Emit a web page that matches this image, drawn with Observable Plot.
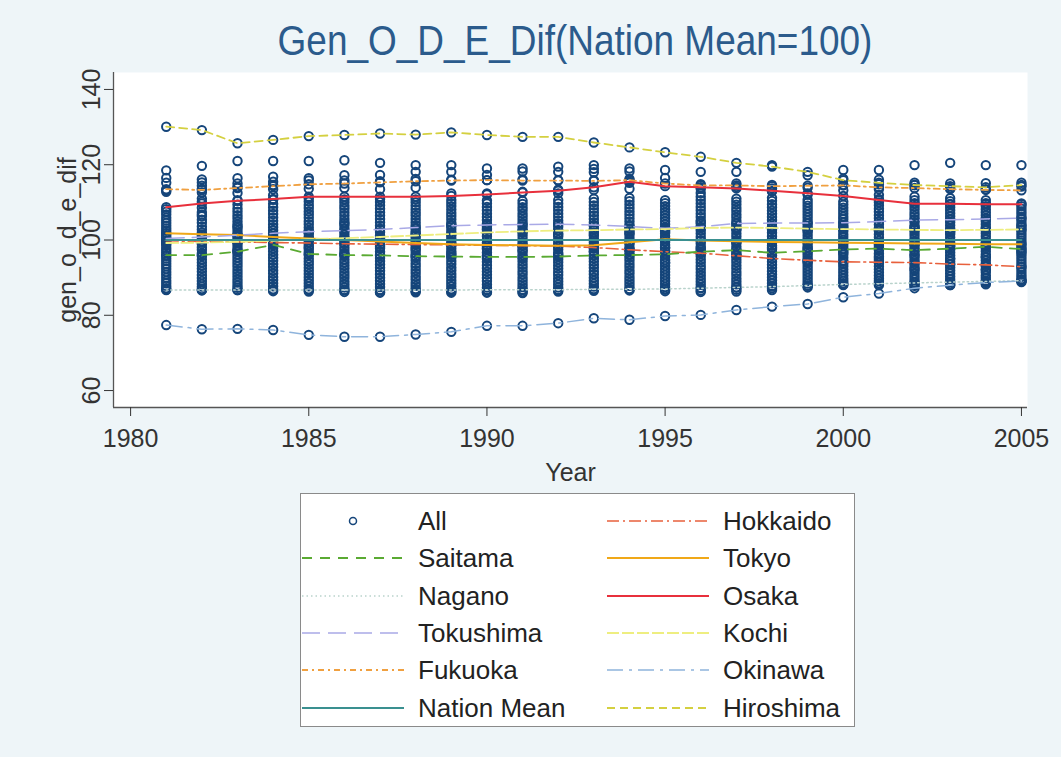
<!DOCTYPE html>
<html><head><meta charset="utf-8">
<script src="https://cdn.jsdelivr.net/npm/d3@7"></script>
<script src="https://cdn.jsdelivr.net/npm/@observablehq/plot@0.6"></script>
<style>
body{margin:0;background:#eef5f8;font-family:"Liberation Sans",Arial,sans-serif;}
#wrap{position:relative;width:1061px;height:757px;overflow:hidden;}
#chart{position:absolute;left:0;top:0;}
#title{position:absolute;left:0;width:1150px;top:20px;text-align:center;font-size:42px;line-height:1;color:#2b5b8c;transform:scaleX(0.88);transform-origin:575px 0;}
#legend{position:absolute;left:300px;top:493px;width:553px;height:232px;background:#fff;border:1.5px solid #8a8a8a;}
.item{position:absolute;height:30px;font-size:26px;color:#222;}
.item svg{position:absolute;top:0;}
.item span{position:absolute;top:0;line-height:30px;white-space:nowrap;}
</style></head>
<body><div id="wrap"><div id="chart"></div><div id="title">Gen_O_D_E_Dif(Nation Mean=100)</div><div id="legend"></div></div>
<script>
const years = [1981,1982,1983,1984,1985,1986,1987,1988,1989,1990,1991,1992,1993,1994,1995,1996,1997,1998,1999,2000,2001,2002,2003,2004,2005];
const xTicks = [1980,1985,1990,1995,2000,2005];
const yTicks = [60,80,100,120,140];
const xDomain = [1979.52, 2005.17];
const yDomain = [55.5, 144.5];

// highlighted prefectures
const hokkaido  = [99.8,99.6,99.5,99.3,99.2,99.0,98.9,98.8,98.7,98.6,98.5,98.4,98.0,97.4,96.9,96.5,95.8,95.1,94.6,94.2,94.1,94.0,93.6,93.4,92.9];
const saitama   = [96.0,96.0,96.9,98.7,96.3,96.0,95.9,95.7,95.6,95.5,95.5,95.6,95.9,96.0,96.2,96.9,97.3,96.6,97.0,97.5,97.7,97.3,97.7,98.2,97.6];
const tokyo     = [101.8,101.5,101.3,100.8,100.4,100.0,99.6,99.2,98.9,98.7,98.6,98.5,98.6,99.4,100.2,99.9,99.7,99.5,99.4,99.3,99.2,99.1,99.0,98.9,98.9];
const nagano    = [86.7,86.7,86.7,86.7,86.7,86.7,86.7,86.7,86.7,86.8,86.8,86.8,86.9,86.9,87.0,87.2,87.4,87.6,87.9,88.2,88.4,88.6,88.8,89.0,89.2];
const osaka     = [108.7,109.7,110.4,110.9,111.5,111.5,111.5,111.5,111.7,112.1,112.6,113.1,114.0,115.5,114.3,114.0,113.7,113.1,112.4,111.7,110.6,109.6,109.6,109.5,109.5];
const tokushima = [100.4,100.8,101.3,101.8,102.2,102.5,102.8,103.3,103.8,104.0,104.1,104.2,104.0,103.6,103.1,103.5,104.4,104.5,104.5,104.6,104.9,105.3,105.4,105.6,105.8];
const kochi     = [99.2,99.3,99.5,99.8,100.2,100.5,100.8,101.2,101.6,102.0,102.3,102.5,102.6,102.8,102.9,103.2,103.3,103.2,103.0,102.9,102.8,102.7,102.6,102.7,102.8];
const fukuoka   = [113.5,113.3,113.8,114.3,114.8,115.0,115.3,115.6,115.8,115.9,115.8,115.8,115.7,115.9,115.0,114.5,114.5,114.3,114.4,114.5,114.0,113.8,113.5,113.3,113.2];
const okinawa   = [77.4,76.3,76.4,76.1,74.8,74.3,74.3,74.9,75.6,77.2,77.2,77.9,79.2,78.8,79.8,80.1,81.4,82.3,83.0,84.8,85.8,87.2,88.0,88.7,89.1];
const nationMean= [100,100,100,100,100,100,100,100,100,100,100,100,100,100,100,100,100,100,100,100,100,100,100,100,100];
const hiroshima = [130.1,129.2,125.7,126.6,127.6,127.9,128.3,128.0,128.6,127.9,127.4,127.4,125.9,124.6,123.3,122.1,120.5,119.5,118.1,115.9,115.2,114.6,114.3,114.0,114.6];

// remaining prefectures, one list per year
const othersByYear = [
 /*1981*/[118.5,116.5,115.2,113.2,112.8,107.5,106.8,105.9,105.2,104.5,103.8,103.1,102.5,101.8,101.2,100.6,99.8,99.2,98.6,97.9,97.3,96.7,95.8,95.1,94.4,93.7,93.0,92.3,91.5,90.8,90.0,89.2,88.5,87.8,87.2,86.8,108.2],
 /*1982*/[119.7,116.1,115.3,114.4,113.6,112.6,111.0,110.2,108.6,107.4,106.3,105.4,104.6,103.6,102.8,102.0,101.3,100.5,99.6,98.9,98.1,97.4,96.5,95.7,94.8,94.0,93.2,92.4,91.6,90.7,89.9,89.1,88.3,87.6,87.0,86.6,106.8],
 /*1983*/[121.0,116.4,115.0,114.1,112.5,110.6,109.4,108.4,107.5,106.6,105.8,104.9,104.1,103.2,102.4,101.6,100.8,100.1,99.3,98.5,97.7,96.9,96.1,95.3,94.5,93.7,92.9,92.0,91.2,90.4,89.5,88.7,87.9,87.3,86.7,103.6,97.2],
 /*1984*/[121.0,116.8,115.5,114.6,113.5,111.9,110.7,109.6,108.7,107.8,106.9,106.0,105.1,104.2,103.4,102.6,101.8,101.0,100.2,99.4,98.6,97.8,97.0,96.1,95.3,94.5,93.6,92.8,91.9,91.1,90.2,89.4,88.5,87.7,86.9,86.4,100.6],
 /*1985*/[121.0,116.4,115.8,113.6,111.0,110.2,109.3,108.5,107.6,106.8,105.9,105.0,104.2,103.3,102.5,101.7,100.9,100.1,99.3,98.5,97.6,96.8,96.0,95.1,94.3,93.5,92.6,91.8,91.0,90.1,89.3,88.5,87.7,86.9,86.3,102.0,98.0],
 /*1986*/[121.2,117.2,115.8,113.8,110.8,110.0,109.1,108.3,107.4,106.5,105.6,104.8,103.9,103.1,102.2,101.4,100.6,99.8,99.0,98.1,97.3,96.5,95.7,94.8,94.0,93.2,92.4,91.5,90.7,89.9,89.0,88.2,87.4,86.7,86.2,104.4,96.3],
 /*1987*/[120.5,117.3,115.6,113.5,110.9,110.1,109.2,108.3,107.4,106.5,105.6,104.7,103.8,103.0,102.1,101.2,100.4,99.5,98.7,97.8,96.9,96.1,95.2,94.4,93.5,92.6,91.8,90.9,90.0,89.2,88.3,87.5,86.7,86.2,86.0,100.0,98.2],
 /*1988*/[119.9,118.1,116.2,113.9,110.8,110.0,109.1,108.2,107.3,106.5,105.6,104.7,103.9,103.0,102.2,101.3,100.5,99.7,98.8,98.0,97.1,96.3,95.4,94.6,93.7,92.9,92.0,91.2,90.3,89.5,88.6,87.8,87.0,86.4,86.1,101.8,97.6],
 /*1989*/[119.9,118.1,116.0,112.4,110.6,109.8,109.0,108.1,107.2,106.4,105.5,104.6,103.8,102.9,102.1,101.2,100.4,99.5,98.7,97.8,97.0,96.1,95.3,94.4,93.6,92.7,91.9,91.0,90.2,89.3,88.5,87.7,86.9,86.3,86.0,104.0,96.5],
 /*1990*/[119.0,117.3,115.9,112.4,110.5,109.7,108.8,107.9,107.0,106.1,105.3,104.4,103.5,102.7,101.8,101.0,100.1,99.3,98.4,97.6,96.7,95.9,95.0,94.2,93.3,92.5,91.6,90.8,89.9,89.1,88.2,87.4,86.7,86.2,86.0,103.0,97.9],
 /*1991*/[119.0,118.2,116.1,112.8,110.4,109.6,108.7,107.9,107.0,106.2,105.3,104.5,103.6,102.8,101.9,101.1,100.2,99.4,98.5,97.7,96.8,96.0,95.1,94.3,93.4,92.6,91.7,90.9,90.0,89.2,88.3,87.5,86.7,86.2,85.9,102.3,97.2],
 /*1992*/[119.5,118.1,115.9,113.4,112.4,110.6,109.7,108.8,107.9,107.0,106.1,105.2,104.4,103.5,102.6,101.7,100.9,100.0,99.2,98.3,97.5,96.6,95.8,94.9,94.1,93.2,92.4,91.5,90.7,89.8,89.0,88.2,87.4,86.7,86.3,101.4,96.2],
 /*1993*/[119.9,118.9,118.0,115.9,113.3,111.0,110.1,109.2,108.3,107.4,106.5,105.6,104.7,103.8,102.9,102.0,101.1,100.3,99.4,98.5,97.7,96.8,96.0,95.1,94.3,93.4,92.6,91.7,90.9,90.0,89.2,88.4,87.6,86.9,86.5,101.5,97.0],
 /*1994*/[119.0,118.2,116.2,115.2,113.6,111.2,110.3,109.4,108.5,107.6,106.7,105.8,104.9,104.0,103.1,102.2,101.4,100.5,99.6,98.8,97.9,97.0,96.2,95.3,94.5,93.6,92.8,91.9,91.1,90.2,89.4,88.6,87.8,87.0,86.6,101.8,97.5],
 /*1995*/[118.6,116.5,110.6,109.8,109.0,108.2,107.4,106.6,105.8,105.0,104.2,103.4,102.6,101.8,101.0,100.3,99.5,98.7,97.9,97.1,96.3,95.5,94.7,93.9,93.1,92.3,91.5,90.7,89.9,89.1,88.3,87.5,86.8,86.4,102.2,98.0,94.0],
 /*1996*/[118.1,114.8,113.6,112.5,111.5,110.6,109.7,108.8,107.9,107.0,106.1,105.2,104.3,103.4,102.5,101.7,100.8,99.9,99.1,98.2,97.4,96.5,95.7,94.8,94.0,93.1,92.3,91.4,90.6,89.7,88.9,88.1,87.3,86.6,86.2,104.8,97.8],
 /*1997*/[118.1,115.0,114.1,111.0,110.2,109.4,108.5,107.7,106.8,106.0,105.1,104.3,103.4,102.6,101.7,100.9,100.0,99.2,98.3,97.5,96.6,95.8,94.9,94.1,93.2,92.4,91.5,90.7,89.8,89.0,88.2,87.4,86.8,86.3,103.0,99.4,96.2],
 /*1998*/[119.9,114.6,113.7,112.9,111.2,110.4,109.5,108.7,107.8,107.0,106.1,105.3,104.4,103.6,102.7,101.9,101.0,100.2,99.3,98.5,97.6,96.8,95.9,95.1,94.2,93.4,92.6,91.7,90.9,90.1,89.3,88.5,87.8,87.2,86.7,103.2,98.0],
 /*1999*/[117.2,113.9,112.1,110.7,109.9,109.1,108.3,107.5,106.7,105.9,105.1,104.3,103.5,102.7,101.9,101.1,100.3,99.5,98.7,97.9,97.1,96.3,95.5,94.7,93.9,93.1,92.3,91.5,90.7,89.9,89.1,88.4,87.8,87.4,102.5,97.8,94.2],
 /*2000*/[118.6,116.3,114.6,113.2,110.2,109.4,108.6,107.8,107.0,106.2,105.5,104.7,103.9,103.1,102.3,101.5,100.8,100.0,99.2,98.4,97.6,96.9,96.1,95.3,94.5,93.7,93.0,92.2,91.4,90.6,89.8,89.1,88.5,88.0,103.5,99.5,96.6],
 /*2001*/[118.6,116.0,114.8,113.5,112.0,110.9,110.0,109.2,108.3,107.5,106.6,105.8,104.9,104.1,103.2,102.4,101.5,100.7,99.8,99.0,98.1,97.3,96.4,95.6,94.7,93.9,93.0,92.2,91.4,90.6,89.8,89.1,88.5,88.0,102.8,98.6,95.2],
 /*2002*/[119.9,115.2,114.6,111.5,110.6,109.8,108.9,108.1,107.2,106.4,105.5,104.7,103.8,103.0,102.1,101.3,100.4,99.6,98.7,97.9,97.0,96.2,95.3,94.5,93.6,92.8,91.9,91.1,90.3,89.5,88.8,88.2,87.8,103.4,99.0,95.9,92.3],
 /*2003*/[120.5,115.0,113.8,111.1,110.3,109.5,108.7,107.9,107.1,106.3,105.5,104.7,103.9,103.1,102.3,101.5,100.7,99.9,99.1,98.3,97.5,96.7,95.9,95.1,94.3,93.5,92.7,91.9,91.1,90.3,89.6,88.9,88.3,88.0,102.0,98.5,95.0],
 /*2004*/[119.9,115.1,113.5,110.6,109.8,109.0,108.2,107.4,106.6,105.8,105.0,104.2,103.4,102.6,101.8,101.0,100.2,99.4,98.6,97.8,97.0,96.2,95.4,94.6,93.8,93.0,92.2,91.4,90.6,89.9,89.2,88.6,88.2,103.0,99.0,95.5,92.0],
 /*2005*/[119.9,115.2,114.2,109.7,109.0,108.3,107.6,106.9,106.2,105.5,104.8,104.1,103.4,102.7,102.0,101.3,100.6,99.9,99.2,98.5,97.8,97.1,96.4,95.7,95.0,94.3,93.6,92.9,92.2,91.5,90.8,90.2,89.6,89.1,88.8,103.8,96.8]
];

const series = [
  {name:"Hokkaido",    values:hokkaido,  color:"#e8603c", dash:"12,4,2,4", w:1.6},
  {name:"Saitama",     values:saitama,   color:"#5aaa32", dash:"10,8",     w:1.8},
  {name:"Tokyo",       values:tokyo,     color:"#f0a818", dash:null,       w:2},
  {name:"Nagano",      values:nagano,    color:"#b9d3cc", dash:"1.5,3",    w:1.5},
  {name:"Osaka",       values:osaka,     color:"#e8303c", dash:null,       w:2},
  {name:"Tokushima",   values:tokushima, color:"#a9a9e6", dash:"18,8",     w:1.5},
  {name:"Kochi",       values:kochi,     color:"#eeee80", dash:"12,3",     w:1.8},
  {name:"Fukuoka",     values:fukuoka,   color:"#f0a040", dash:"6,4,2,4",  w:1.8},
  {name:"Okinawa",     values:okinawa,   color:"#8fb4dc", dash:"16,6,3,6", w:1.5},
  {name:"Nation Mean", values:nationMean,color:"#3a9090", dash:null,       w:2},
  {name:"Hiroshima",   values:hiroshima, color:"#d4d040", dash:"8,5",      w:1.8}
];
const pointColor = "#15457a";

const allPoints = [];
othersByYear.forEach((vals, i) => vals.forEach(v => allPoints.push({year: years[i], value: v})));
series.forEach(s => { if (s.name !== "Nation Mean") s.values.forEach((v, i) => allPoints.push({year: years[i], value: v})); });

const lineMarks = series.map(s => Plot.line(years.map((yr, i) => ({year: yr, value: s.values[i]})), {
  x: "year", y: "value", stroke: s.color, strokeWidth: s.w, strokeDasharray: s.dash || undefined
}));

const chart = Plot.plot({
  width: 1061, height: 487,
  marginLeft: 113, marginRight: 34, marginTop: 72, marginBottom: 80,
  style: {background: "transparent", fontFamily: "'Liberation Sans', Arial, sans-serif", color: "#333"},
  x: {domain: xDomain},
  y: {domain: yDomain},
  marks: [
    Plot.frame({fill: "white", stroke: "none"}),
    Plot.ruleX([xDomain[0]], {stroke: "#555", strokeWidth: 1.3}),
    Plot.ruleY([yDomain[0]], {stroke: "#555", strokeWidth: 1.3}),
    Plot.axisY({ticks: yTicks, tickSize: 9, tickPadding: 5, tickRotate: -90, fontSize: 25,
      label: "gen_o_d_e_dif", labelAnchor: "center", labelOffset: 55, labelArrow: "none"}),
    Plot.axisX({ticks: xTicks, tickSize: 9, tickPadding: 13, tickFormat: d => String(d), fontSize: 25,
      label: "Year", labelAnchor: "center", labelOffset: 73, labelArrow: "none"}),
    Plot.dot(allPoints, {x: "year", y: "value", r: 4.2, stroke: pointColor, strokeWidth: 2, fill: "none"}),
    ...lineMarks
  ]
});
document.getElementById("chart").appendChild(chart);

// legend
const legendEntries = [{name: "All", point: true}, ...series];
const legendOrder = ["All","Hokkaido","Saitama","Tokyo","Nagano","Osaka","Tokushima","Kochi","Fukuoka","Okinawa","Nation Mean","Hiroshima"];
const legend = document.getElementById("legend");
legendOrder.forEach((name, k) => {
  const e = legendEntries.find(d => d.name === name);
  const col = k % 2, row = Math.floor(k / 2);
  const item = document.createElement("div");
  item.className = "item";
  item.style.left = (col ? 305 : 0) + "px";
  item.style.top = (12 + row * 37.3) + "px";
  const svgNS = "http://www.w3.org/2000/svg";
  const svg = document.createElementNS(svgNS, "svg");
  svg.setAttribute("width", 102); svg.setAttribute("height", 30);
  svg.style.left = "1px";
  if (e.point) {
    const c = document.createElementNS(svgNS, "circle");
    c.setAttribute("cx", 51); c.setAttribute("cy", 15); c.setAttribute("r", 3.5);
    c.setAttribute("fill", "none"); c.setAttribute("stroke", pointColor); c.setAttribute("stroke-width", 1.5);
    svg.appendChild(c);
  } else {
    const l = document.createElementNS(svgNS, "line");
    l.setAttribute("x1", 0); l.setAttribute("x2", 102); l.setAttribute("y1", 15); l.setAttribute("y2", 15);
    l.setAttribute("stroke", e.color); l.setAttribute("stroke-width", e.w);
    if (e.dash) l.setAttribute("stroke-dasharray", e.dash);
    svg.appendChild(l);
  }
  item.appendChild(svg);
  const sp = document.createElement("span");
  sp.textContent = name; sp.style.left = "117px";
  item.appendChild(sp);
  legend.appendChild(item);
});
</script></body></html>
